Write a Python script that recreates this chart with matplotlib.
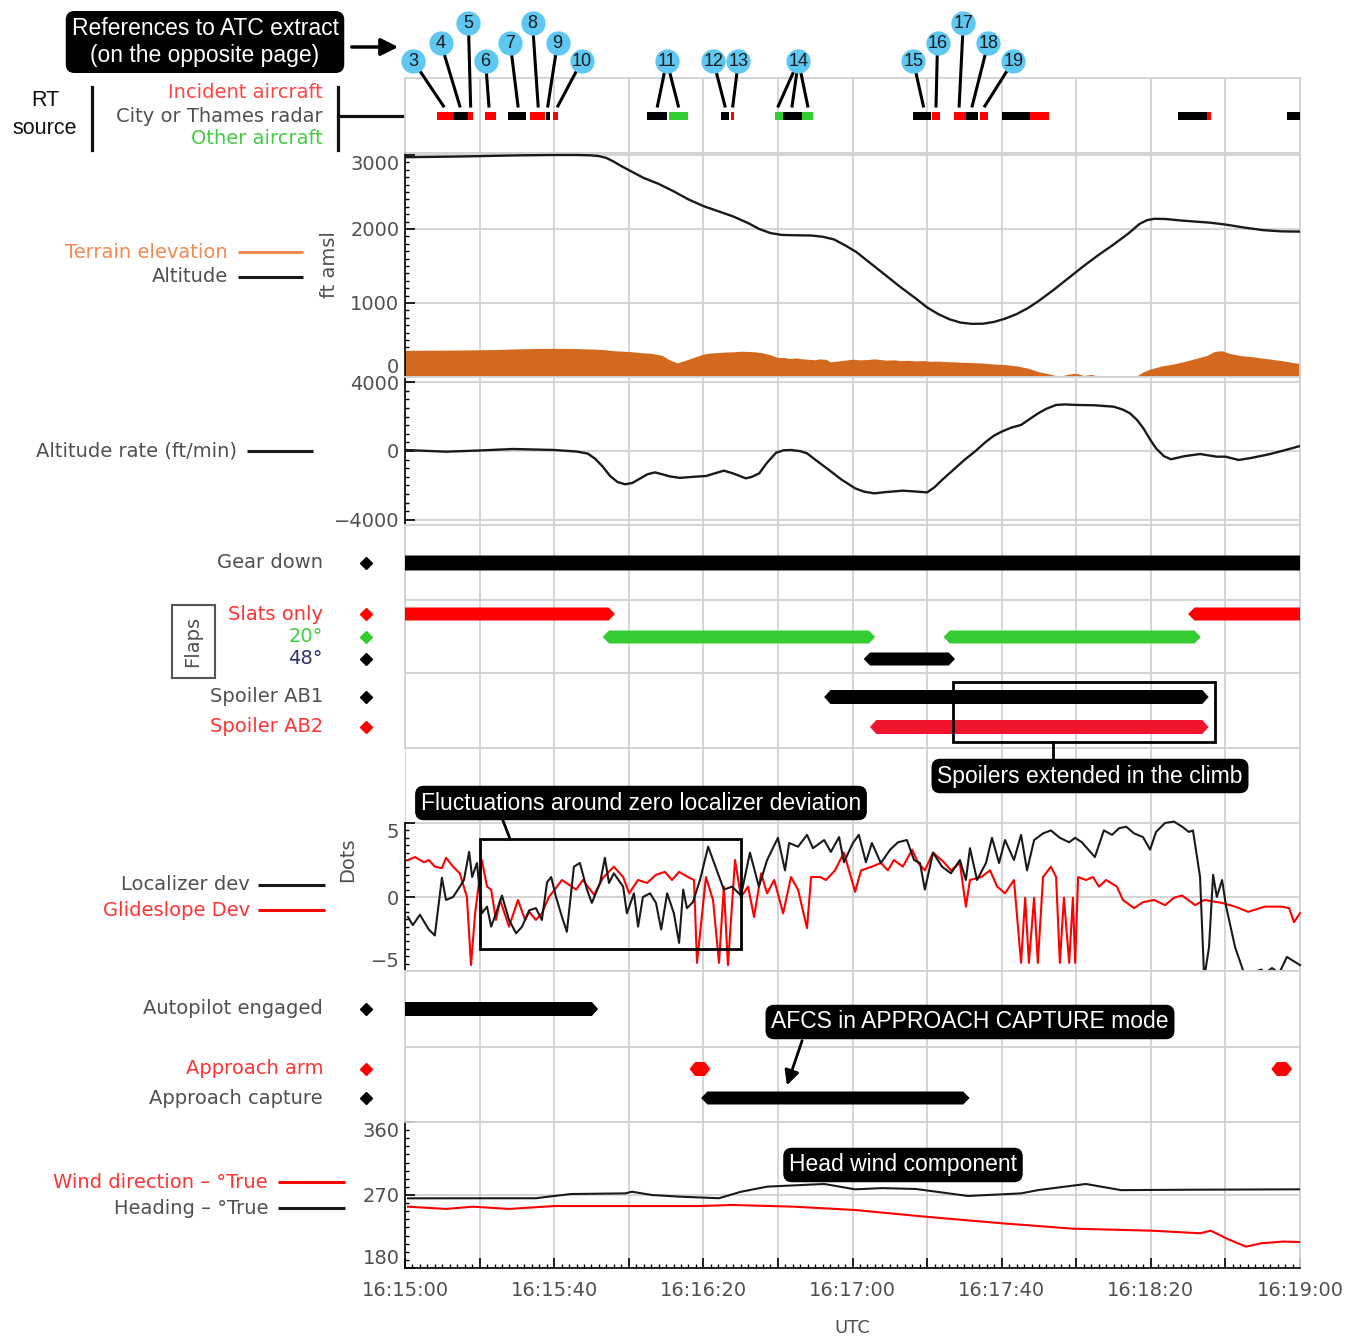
import numpy as np
import matplotlib
matplotlib.use('Agg')
import matplotlib.pyplot as plt
from matplotlib.patches import Polygon, Rectangle
from matplotlib.ticker import MultipleLocator, FixedLocator

plt.rcParams['font.family'] = ['DejaVu Sans']

# ---------------- data (time in seconds after 16:15:00) ----------------
x_tick_labels = ['16:15:00', '', '16:15:40', '', '16:16:20', '', '16:17:00', '',
                 '16:17:40', '', '16:18:20', '', '16:19:00']

# RT source segments (start, end) s
rt_red = [(8.5, 12.8), (17.0, 18.3), (21.5, 24.4), (33.5, 37.5), (39.8, 41.1), (87.4, 88.3),
          (141.4, 143.5), (147.2, 150.4), (154.2, 156.4), (167.6, 172.8), (215.0, 216.1)]
rt_black = [(12.8, 17.0), (27.7, 32.4), (37.8, 38.9), (64.8, 70.2), (84.7, 87.0), (101.3, 106.4),
            (136.3, 141.1), (150.4, 153.7), (160.0, 167.6), (207.4, 215.0), (236.4, 240.0)]
rt_green = [(70.7, 76.0), (99.2, 101.3), (106.4, 109.5)]

callout_num = [3, 4, 5, 6, 7, 8, 9, 10, 11, 12, 13, 14, 15, 16, 17, 18, 19]
callout_t = [2.2, 9.6, 17.0, 21.6, 28.2, 34.2, 40.9, 47.4, 70.2, 82.7, 89.4, 105.5,
             136.3, 142.8, 149.7, 156.4, 163.1]
callout_level = [0, 1, 2, 0, 1, 2, 1, 0, 0, 0, 0, 0, 0, 1, 2, 1, 0]
callout_targets = [[10.3], [14.7], [17.6], [22.5], [30.3], [35.7], [38.3], [41.0], [67.7, 73.3],
                   [85.8], [87.9], [100.1, 103.8, 108.0], [139.0], [142.4], [148.6], [152.1], [155.5]]

# Altitude (ft amsl)
alt_t = [0, 15, 30, 40, 46, 50, 52, 54, 56, 58, 61, 64, 68, 72, 76, 80, 84, 88, 92, 95, 98,
         101, 105, 109, 112, 115, 118, 121, 125, 129, 133, 137, 140, 143, 146, 149, 152, 155,
         158, 161, 164, 167, 170, 174, 178, 182, 186, 190, 194, 197, 199, 201, 204, 208, 212,
         216, 220, 225, 230, 235, 240]
alt_ft = [2970, 2980, 2995, 3000, 3000, 2995, 2985, 2960, 2910, 2850, 2770, 2690, 2610, 2510,
          2400, 2310, 2240, 2170, 2080, 2000, 1945, 1920, 1915, 1912, 1895, 1860, 1780, 1690,
          1530, 1370, 1210, 1060, 940, 850, 780, 735, 718, 720, 745, 790, 850, 930, 1030, 1180,
          1340, 1500, 1650, 1790, 1940, 2070, 2120, 2138, 2135, 2115, 2100, 2085, 2060, 2020,
          1985, 1968, 1965]

# Terrain elevation (ft)
terr_t = [0, 5, 10, 15, 20, 25, 30, 35, 40, 45, 50, 53, 56, 58, 60, 63, 66, 69, 71, 73, 76,
          80, 82, 84, 86, 88, 90, 92, 94, 96, 98, 99, 100, 102, 103, 105, 106, 108, 110, 111,
          113, 114, 116, 118, 120, 122, 124, 126, 127, 129, 131, 133, 135, 137, 139, 141, 143,
          145, 147, 149, 152, 155, 158, 161, 164, 167, 170, 172, 174, 176, 178, 180, 182, 184,
          186, 188, 190, 192, 194, 196, 198, 200, 203, 206, 209, 212, 215, 217, 219, 221, 224,
          227, 230, 233, 236, 238, 240]
terr_ft = [360, 362, 363, 365, 368, 372, 380, 385, 388, 385, 378, 372, 355, 350, 345, 330, 320,
           290, 230, 190, 240, 310, 325, 330, 338, 340, 348, 345, 340, 325, 300, 280, 265, 262,
           250, 258, 248, 240, 232, 245, 238, 205, 215, 228, 240, 232, 236, 245, 238, 228, 232,
           222, 225, 218, 222, 212, 215, 208, 205, 200, 195, 188, 175, 168, 150, 120, 70, 50, 25,
           15, 40, 50, 20, 35, 10, 20, 0, 5, 15, 10, 70, 110, 150, 175, 210, 250, 290, 345, 355,
           320, 290, 275, 255, 235, 215, 195, 185]

# Altitude rate (ft/min)
rate_t = [0, 11, 20, 29, 40, 46, 49, 51, 53, 55, 57, 59, 61, 63, 65, 67, 69, 71, 73.7, 77,
          80.7, 83, 85.5, 88, 91.4, 93, 95, 97, 99.5, 101.5, 103.5, 106, 107.8, 110, 113.7, 117,
          120.7, 123, 125.8, 129, 133.5, 137, 140, 142, 144, 147, 150, 153, 155.8, 158, 160,
          162.5, 165.2, 167.5, 169.8, 172, 174.6, 177, 180, 185, 190, 192.5, 194.4, 196.3, 198,
          200, 201.4, 203.5, 205.4, 209, 213.2, 217.7, 220, 223.6, 227, 232, 236, 240]
rate_v = [58, -40, 30, 116, 58, -30, -150, -450, -900, -1450, -1800, -1930, -1850, -1600,
          -1350, -1240, -1350, -1470, -1560, -1500, -1450, -1300, -1140, -1300, -1585, -1500,
          -1295, -700, -100, 40, 58, -10, -135, -500, -1100, -1650, -2165, -2350, -2455, -2380,
          -2300, -2350, -2400, -2100, -1680, -1100, -520, 0, 540, 900, 1120, 1350, 1510, 1850,
          2185, 2450, 2670, 2700, 2670, 2650, 2570, 2400, 2185, 1800, 1315, 600, 155, -300,
          -480, -300, -175, -330, -330, -520, -400, -175, 50, 290]

# Discrete parameters (start, end) s
gear_down = [(-2, 242)]
slats_only = [(-2, 56.3), (210.0, 242)]
flaps_20 = [(53.0, 126.1), (144.4, 213.4)]
flaps_48 = [(123.0, 147.5)]
spoiler_ab1 = [(112.4, 215.5)]
spoiler_ab2 = [(124.7, 215.5)]
autopilot = [(-2, 51.8)]
approach_arm = [(76.3, 81.9), (232.3, 237.9)]
approach_capture = [(79.4, 151.4)]

# Localizer deviation (dots)
loc_t = [0.8, 2.1, 4.0, 6.4, 8.0, 9.9, 11.0, 12.9, 14.7, 15.8, 17.2, 18.0, 19.3, 20.6, 22.0,
         23.1, 24.4, 26.0, 27.9, 29.8, 31.4, 33.3, 35.1, 36.7, 38.1, 39.2, 40.5, 42.1, 43.4,
         45.3, 46.9, 48.8, 50.1, 52.3, 53.6, 54.7, 56.0, 58.5, 59.5, 61.4, 62.5, 63.8, 65.7,
         67.3, 68.7, 70.3, 72.1, 73.5, 74.6,
         75.6, 77.2, 79.1, 81.3, 83.1, 85.5, 87.7, 90.1, 92.5, 94.9, 97.1, 100.0, 101.9,
         103.0, 105.4, 107.8, 109.4, 112.4, 114.2, 116.4, 117.7, 120.1, 121.7, 123.6, 125.2,
         127.6, 130.1, 132.2, 134.6, 136.5, 138.1, 139.4, 141.6, 144.0, 146.4, 148.8, 150.4,
         151.5, 153.4, 155.8, 157.4, 159.3, 160.9, 163.3, 165.2, 166.8, 168.7, 171.1, 173.2,
         175.6, 178.1, 179.7, 181.5, 185.0, 187.4, 189.6, 191.5, 193.4, 195.5, 197.9, 199.8,
         201.4, 203.8, 206.2, 208.4, 210.2, 211.3, 213.2, 214.3, 215.6, 216.7, 217.7, 219.1,
         220.2, 222.6, 225.0, 227.1, 229.6, 230.6, 232.5, 234.4, 236.5, 240.0]
loc_dev = [-1.35, -1.9, -1.2, -2.2, -2.6, 1.3, -0.2, 0, 0.7, 1.15, 3.05, 1.35, 2.3, -1.1, -0.65,
           -2, -1.1, 0.1, -1.55, -2.45, -2, -0.9, -0.75, -1.55, 1.0, 1.35, 0, -1.35, -2.35,
           2.05, 2.3, 0.5, -0.4, 0.95, 2.65, 0.95, 1.6, 0.7, -1.1, 0.25, -2, 0, 0.25, -0.4,
           -2.2, 0.25, -1.1, -3.1, 0.5,
           -0.75, -0.35, 1.15, 3.4, 2.15, 0.5, 0.7, 0.1, 3.0, 0.7, 2.5, 4.0, 1.8, 3.65, 3.4,
           4.2, 3.3, 3.85, 3.05, 4.05, 2.35, 3.65, 4.2, 2.35, 3.65, 2.3, 3.2, 3.7, 3.85, 2.5,
           2.3, 0.5, 3.0, 2.05, 1.6, 2.5, 1.15, 3.3, 1.15, 2.3, 4.0, 2.3, 3.85, 2.5, 4.2, 1.8,
           3.85, 4.3, 4.5, 4.0, 3.7, 4.0, 3.7, 2.7, 4.5, 4.2, 4.65, 4.75, 4.3, 4.05, 3.2, 4.4,
           5.0, 5.1, 4.75, 4.4, 4.5, 1.35, -5.5, -3.4, 1.5, 0, 1.15, -0.65, -3.4, -5.15, -5.15,
           -4.9, -5.15, -4.8, -5.15, -4.05, -4.6]

# Glideslope deviation (dots)
gs_t = [0.8, 2.7, 5.1, 6.4, 8.0, 9.9, 11.0, 12.9, 14.7, 16.6, 17.7, 18.8, 20.6, 22.0, 23.1,
        24.4, 25.5, 27.9, 30.3, 32.2, 33.3, 35.1, 36.7, 38.6, 42.1, 45.9, 47.7, 50.7, 53.1,
        56.0, 58.5, 60.1, 62.5, 64.9, 67.3, 69.7, 71.6, 73.5, 75.9, 77.5,
        78.3, 80.7, 82.6, 84.2, 85.5, 86.6, 88.5, 90.1, 92.0, 93.6, 95.5, 97.1, 99.0, 101.4,
        103.5, 105.4, 107.8, 108.9, 111.3, 112.9, 115.3, 117.7, 120.7, 122.3, 125.2, 127.6,
        129.5, 131.1, 133.5, 136.0, 137.6, 139.4, 141.6, 144.5, 146.4, 148.8, 150.4, 151.5,
        154.5, 156.9, 158.8, 160.9, 163.3, 165.2, 166.3, 167.3, 168.7, 169.7, 171.1, 173.2,
        174.6, 175.6, 176.7, 178.1, 179.1, 179.7, 180.5, 182.6, 184.5, 186.1, 188.0, 190.9,
        192.5, 195.5, 197.9, 200.9, 203.8, 206.2, 208.4, 211.9, 214.3, 219.1, 222.6, 226.1,
        230.6, 234.9, 237.1, 238.4, 240.0]
gs_dev = [2.5, 2.7, 2.35, 2.5, 2.05, 1.95, 2.65, 2.05, 1.6, 0, -4.6, -1.1, 2.5, 0.7, 0.5,
          -1.55, -0.2, -2, -0.2, -1.55, -1, -1.55, -1.1, 0, 1.15, 0.5, 1.15, 0.15, 1.3, 2.05,
          1.35, 0.25, 1.15, 0.95, 1.5, 1.7, 1.15, 1.7, 1.35, 1.15,
          -4.45, 1.35, -0.2, -4.45, 0.7, -4.6, 2.5, 0, 0.7, -1.35, 1.6, 0.25, 1.15, -1.1, 1.35,
          0.5, -2.1, 1.35, 1.35, 1.15, 1.8, 3.0, 0.35, 1.8, 2.05, 2.3, 1.8, 2.5, 2.05, 3.2,
          2.3, 1.8, 3.0, 2.35, 1.8, 2.3, -0.65, 1.15, 1.35, 1.8, 0.7, 0.25, 1.15, -4.45, -0.05,
          -4.45, -0.05, -4.45, 1.35, 2.05, 1.35, -4.45, -0.05, -4.45, -0.05, -4.45, 1.35, 1.15,
          1.35, 0.7, 1.15, 0.7, -0.2, -0.75, -0.35, -0.2, -0.55, -0.05, 0.1, -0.55, -0.2, -0.4,
          -0.65, -1.0, -0.65, -0.65, -0.75, -1.7, -1.1]

# Heading and wind direction (deg True)
hdg_t = [0.8, 35.1, 40.0, 44.5, 59.0, 60.9, 66.2, 73.5, 84.2, 90.1, 97.1, 112.4, 120.7,
         128.0, 137.0, 151.0, 165.2, 169.7, 182.6, 192.0, 210.0, 240.0]
hdg_deg = [265.9, 266.0, 268.8, 271.2, 272.0, 274.0, 270.0, 268.0, 266.0, 274.0, 280.3,
           283.6, 277.0, 278.5, 277.4, 268.8, 272.0, 276.0, 283.6, 276.0, 276.5, 277.0]
wind_t = [0.8, 11.0, 18.2, 27.9, 40.0, 79.1, 87.7, 104.3, 120.7, 139.4, 160.4, 179.1, 200.3,
          213.2, 216.1, 220.2, 225.5, 229.6, 235.5, 240.0]
wind_deg = [255.6, 252.8, 255.6, 252.8, 256.4, 256.4, 257.7, 255.6, 251.5, 243.3, 235.0,
            228.5, 226.0, 222.8, 226.0, 216.6, 206.3, 210.5, 212.6, 212.0]

# ---------------- figure / layout ----------------
W, H = 1365, 1338
X0, X1 = 405, 1300
GRID = '#d2d2d2'
LBL = '#505050'
BOXFONT = 'Liberation Sans'

fig = plt.figure(figsize=(W / 100, H / 100), dpi=100)


def panel(top, bottom):
    ax = fig.add_axes([X0 / W, 1 - bottom / H, (X1 - X0) / W, (bottom - top) / H])
    ax.set_xlim(0, 240)
    ax.set_xticks(np.arange(0, 241, 20))
    ax.grid(axis='x', color=GRID, lw=1.3)
    ax.set_axisbelow(True)
    ax.tick_params(axis='x', length=0, labelbottom=False)
    ax.tick_params(axis='y', length=0, labelleft=False)
    for s in ax.spines.values():
        s.set_color(GRID)
        s.set_linewidth(1.3)
    return ax


def numeric(ax, ticks, minor, lim, bounds=None):
    ax.set_ylim(*lim)
    ax.set_yticks(ticks)
    lo, hi = bounds if bounds else lim
    ax.yaxis.set_minor_locator(FixedLocator(np.arange(ticks[0], hi + 1e-9, minor)))
    ax.grid(axis='y', color=GRID, lw=1.3)
    ax.spines['left'].set_color('black')
    ax.spines['left'].set_linewidth(1.2)
    if bounds:
        ax.spines['left'].set_bounds(*bounds)
    ax.tick_params(axis='y', which='major', direction='in', length=7, width=1.2, color='k',
                   labelleft=True, labelsize=14, labelcolor=LBL, pad=4)
    ax.tick_params(axis='y', which='minor', direction='in', length=3, width=1.0, color='k')


def hexbar(ax, spans, y, h, color, tip=1.7):
    for t0, t1 in spans:
        pts = [(t0, y), (t0 + tip, y - h / 2), (t1 - tip, y - h / 2), (t1, y),
               (t1 - tip, y + h / 2), (t0 + tip, y + h / 2)]
        ax.add_patch(Polygon(pts, closed=True, fc=color, ec='none', zorder=3))


# RT source panel (y in layout pixels)
ax_rt = panel(78, 153)
ax_rt.set_ylim(153, 78)
for spans, col in ((rt_red, '#ff0000'), (rt_black, 'black'), (rt_green, '#33cc33')):
    ax_rt.broken_barh([(a, b - a) for a, b in spans], (112, 8), facecolors=col, zorder=3)
level_y = {0: 61, 1: 42.7, 2: 23.3}
for num, t, lev, targets in zip(callout_num, callout_t, callout_level, callout_targets):
    y = level_y[lev]
    for tt in targets:
        ax_rt.plot([t, tt], [y, 106], color='black', lw=2.2, clip_on=False, zorder=4)
    ax_rt.plot(t, y, 'o', ms=17.5, mfc='#5ec8f2', mec='none', clip_on=False, zorder=5)
    ax_rt.text(t, y + 0.5, str(num), ha='center', va='center', fontsize=13,
               family=BOXFONT, color='#1a1a1a', zorder=6, clip_on=False)

# Altitude panel
ax_alt = panel(153, 377)
numeric(ax_alt, [0, 1000, 2000, 3000], 100, (0, 3027))
ax_alt.fill_between(terr_t, 0, terr_ft, color='#d2691e', lw=0, zorder=2)
ax_alt.plot(alt_t, alt_ft, color='#1a1a1a', lw=1.7, zorder=3)
ax_alt.set_ylabel('ft amsl', color=LBL, fontsize=14, labelpad=8)

# Altitude rate panel
ax_rate = panel(377, 525)
numeric(ax_rate, [-4000, 0, 4000], 500, (-4290, 4290), bounds=(-4290, 4290))
ax_rate.plot(rate_t, rate_v, color='#1a1a1a', lw=1.7, zorder=3)

# Gear panel
ax_gear = panel(525, 600)
ax_gear.set_ylim(600, 525)
hexbar(ax_gear, gear_down, 563, 15, 'black')

# Flaps panel
ax_flap = panel(600, 673)
ax_flap.set_ylim(673, 600)
hexbar(ax_flap, slats_only, 614, 13, '#ff0000')
hexbar(ax_flap, flaps_20, 637, 13, '#33cc33')
hexbar(ax_flap, flaps_48, 659, 13, 'black')

# Spoiler panel
ax_sp = panel(673, 748)
ax_sp.set_ylim(748, 673)
hexbar(ax_sp, spoiler_ab1, 697, 14, 'black')
hexbar(ax_sp, spoiler_ab2, 727, 14, '#f0142d')
ax_sp.add_patch(Rectangle((147.0, 682), 70.2, 60, fill=False, ec='black', lw=2, zorder=5))

# Localizer / glideslope panel
ax_loc = panel(748, 971)
numeric(ax_loc, [-5, 0, 5], 0.5, (-5, 10.07), bounds=(-5, 5))
ax_loc.plot(gs_t, gs_dev, color='#ff0000', lw=1.5, zorder=3, clip_on=False)
ax_loc.plot(loc_t, loc_dev, color='#1a1a1a', lw=1.5, zorder=4, clip_on=False)
ax_loc.add_patch(Rectangle((20.1, -3.51), 70.0, 7.43, fill=False, ec='black', lw=2, zorder=5))
ax_loc.set_ylabel('Dots', color=LBL, fontsize=14, labelpad=10)

# Autopilot panel
ax_ap = panel(971, 1047)
ax_ap.set_ylim(1047, 971)
hexbar(ax_ap, autopilot, 1009, 14, 'black')

# Approach panel
ax_app = panel(1047, 1122)
ax_app.set_ylim(1122, 1047)
hexbar(ax_app, approach_arm, 1069, 14, '#ff0000', tip=1.5)
hexbar(ax_app, approach_capture, 1098, 13, 'black')

# Wind / heading panel
ax_w = panel(1122, 1268)
numeric(ax_w, [180, 270, 360], 10, (180, 360))
ax_w.plot(wind_t, wind_deg, color='#ff0000', lw=1.5, zorder=3)
ax_w.plot(hdg_t, hdg_deg, color='#1a1a1a', lw=1.5, zorder=3)
ax_w.spines['bottom'].set_color('black')
ax_w.spines['bottom'].set_linewidth(1.2)
ax_w.set_xticklabels(x_tick_labels)
ax_w.xaxis.set_minor_locator(MultipleLocator(2))
ax_w.tick_params(axis='x', which='major', direction='in', length=7, width=1.2, color='k',
                 labelbottom=True, labelsize=14, labelcolor=LBL, pad=9)
ax_w.tick_params(axis='x', which='minor', direction='in', length=3, width=1.0, color='k')
ax_w.set_xlabel('UTC', color=LBL, fontsize=13, labelpad=14)

# nudge edge tick labels inward like the original
for ax in (ax_alt, ax_w, ax_loc):
    labs = ax.get_yticklabels()
    labs[0].set_va('bottom')
    labs[-1].set_va('top')

# ---------------- overlay for side labels and annotations ----------------
ov = fig.add_axes([0, 0, 1, 1], zorder=20)
ov.set_xlim(0, W)
ov.set_ylim(H, 0)
ov.axis('off')


def lab(x, y, s, color=LBL, **kw):
    ov.text(x, y, s, color=color, ha='right', va='center', fontsize=14, **kw)


def swatch(x0, x1, y, color):
    ov.plot([x0, x1], [y, y], color=color, lw=2.2, solid_capstyle='butt')


def diamond(y, color):
    ov.plot(366, y, marker='D', ms=6.5, color=color, mec=color)


def blackbox(x, y, s, **kw):
    ov.text(x, y, s, color='white', ha='center', va='center', fontsize=16.5, family=BOXFONT,
            bbox=dict(boxstyle='round,pad=0.22,rounding_size=0.35', fc='black', ec='black'),
            **kw)


# RT source
ov.text(45, 100, 'RT', ha='center', va='center', fontsize=15.5, family=BOXFONT, color='#111')
ov.text(45, 128, 'source', ha='center', va='center', fontsize=15.5, family=BOXFONT, color='#111')
ov.plot([92, 92], [87, 150], color='#111', lw=2.3)
ov.plot([338, 338], [87, 150], color='#111', lw=2.3)
ov.plot([338, 402], [116, 116], color='#111', lw=2.3)
lab(323, 93, 'Incident aircraft', color='#ff4545')
lab(323, 116, 'City or Thames radar')
lab(323, 139, 'Other aircraft', color='#44cc44')

# references box and arrow
blackbox(205, 42, 'References to ATC extract\n(on the opposite page)', linespacing=1.25)
ov.annotate('', xy=(401, 47), xytext=(349, 47),
            arrowprops=dict(arrowstyle='-|>', color='black', lw=2.5, mutation_scale=26))

# altitude legend
lab(228, 252, 'Terrain elevation', color='#f08a50')
swatch(238, 303, 252, '#f08a50')
lab(228, 277, 'Altitude')
swatch(238, 303, 277, '#1a1a1a')
lab(237, 451, 'Altitude rate (ft/min)')
swatch(247, 313, 451, '#1a1a1a')

# discrete labels
lab(323, 563, 'Gear down')
diamond(563, 'black')
ov.add_patch(Rectangle((172, 605), 43, 73, fill=False, ec='#555555', lw=1.5))
ov.text(193, 641, 'Flaps', rotation=90, ha='center', va='center', fontsize=14, color=LBL)
lab(323, 614, 'Slats only', color='#ff3333')
diamond(614, '#ff0000')
lab(323, 637, '20°', color='#44cc44')
diamond(637, '#33cc33')
lab(323, 659, '48°', color='#333366')
diamond(659, 'black')
lab(323, 697, 'Spoiler AB1')
diamond(697, 'black')
lab(323, 727, 'Spoiler AB2', color='#ff3333')
diamond(727, '#ff0000')

lab(250, 885, 'Localizer dev')
swatch(258, 325, 885, '#1a1a1a')
lab(250, 910, 'Glideslope Dev', color='#ff3333')
swatch(258, 325, 910, '#ff0000')

lab(323, 1009, 'Autopilot engaged')
diamond(1009, 'black')
lab(323, 1069, 'Approach arm', color='#ff3333')
diamond(1069, '#ff0000')
lab(323, 1098, 'Approach capture')
diamond(1098, 'black')

lab(268, 1182, 'Wind direction – °True', color='#ff3333')
swatch(278, 345, 1182, '#ff0000')
lab(268, 1208, 'Heading – °True')
swatch(278, 345, 1208, '#1a1a1a')

# annotation boxes
blackbox(1090, 776, 'Spoilers extended in the climb')
ov.plot([1053, 1053], [742, 761], color='black', lw=2)
blackbox(641, 803, 'Fluctuations around zero localizer deviation')
ov.plot([502, 510], [818, 839], color='black', lw=2)
blackbox(970, 1022, 'AFCS in APPROACH CAPTURE mode')
ov.annotate('', xy=(786, 1088), xytext=(803, 1038),
            arrowprops=dict(arrowstyle='-|>', color='black', lw=2, mutation_scale=22))
blackbox(903, 1165, 'Head wind component')

fig.savefig('out.png', dpi=100)
